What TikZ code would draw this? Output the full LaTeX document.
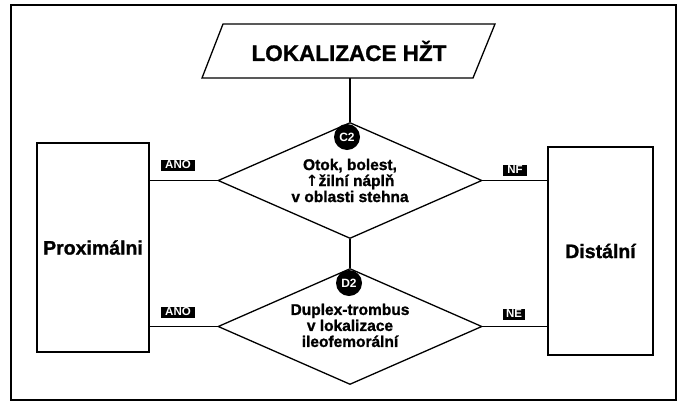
\documentclass[tikz,border=0pt]{standalone}
\usepackage{fontspec}
\setmainfont{Liberation Sans}
\newfontfamily\heavy{Liberation Sans Bold}[FakeBold=1.2]
\newfontfamily\arrowfont{DejaVu Sans}
\usetikzlibrary{shapes.geometric}
\begin{document}
\begin{tikzpicture}[x=1pt,y=-1pt, line width=1.3pt,
  box/.style={draw, rectangle, inner sep=0pt, font=\heavy\fontsize{19.5}{22}\selectfont},
  dec/.style={draw, diamond, aspect=2.3, inner sep=0pt, minimum width=264pt, minimum height=116pt, align=center, font=\heavy\fontsize{15.5}{16}\selectfont},
  tag/.style={fill=black, text=white, inner sep=0pt, minimum height=11pt, font=\bfseries\fontsize{11.5}{11.5}\selectfont},
  badge/.style={circle, fill=black, text=white, minimum size=26pt, inner sep=0pt, font=\bfseries\fontsize{12}{12}\selectfont},
  conn/.style={draw, line width=1.3pt}]
\useasboundingbox (0,0) rectangle (677,402);
\draw[line width=1.2pt] (11,5) rectangle (676,400);
% title parallelogram
\draw (223,24) -- (495,24) -- (473,78) -- (202,78) -- cycle;
\node[font=\heavy\fontsize{22.5}{24}\selectfont] (title) at (349,51) {LOKALIZACE HŽT};
\coordinate (tb) at (350,78);
% decisions
\node[dec] (d1) at (350,180.5) {Otok, bolest,\\ {\arrowfont\bfseries ↑}žilní náplň\\ v oblasti stehna};
\node[dec] (d2) at (350,326.5) {\\[-7pt]Duplex-trombus\\ v lokalizace\\ ileofemorální};
% result boxes
\node[box, minimum width=112pt, minimum height=209pt] (prox) at (93,247.5) {Proximálni};
\node[box, minimum width=105pt, minimum height=208pt] (dist) at (600.5,251) {Distální};
% connectors
\draw[conn] (tb) -- (d1.north);
\draw[conn] (d1.south) -- (d2.north);
\draw[conn] (d1.west) -- (d1.west -| prox.east);
\draw[conn] (d2.west) -- (d2.west -| prox.east);
\draw[conn] (d1.east) -- (d1.east -| dist.west);
\draw[conn] (d2.east) -- (d2.east -| dist.west);
% tags
\node[tag, minimum width=34pt] (t1) at (178,165) {ANO};
\node[tag, minimum width=34pt] (t2) at (178,312) {ANO};
\node[tag, minimum width=24pt] (t3) at (515,170) {NF};
\node[tag, minimum width=22pt] (t4) at (514,314) {NE};
% badges
\node[badge] (c2) at (347,137) {C2};
\node[badge] (dd2) at (349,283) {D2};
\end{tikzpicture}
\end{document}
